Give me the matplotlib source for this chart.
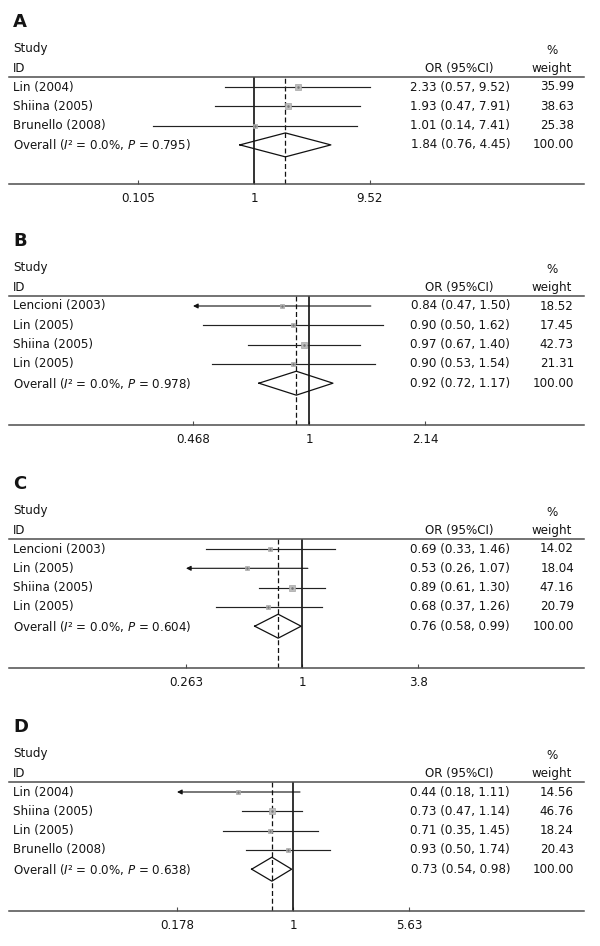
import numpy as np
import matplotlib
matplotlib.use("Agg")
import matplotlib.pyplot as plt
import matplotlib.transforms as mtransforms

plt.rcParams['font.family'] = ['DejaVu Sans']
plt.rcParams['mathtext.fontset'] = 'dejavusans'

# ---------------- data ----------------
A_studies = ["Lin (2004)", "Shiina (2005)", "Brunello (2008)"]
A_or = [2.33, 1.93, 1.01]
A_lo = [0.57, 0.47, 0.14]
A_hi = [9.52, 7.91, 7.41]
A_w = [35.99, 38.63, 25.38]
A_arrow = [False, False, False]
A_overall = [1.84, 0.76, 4.45]
A_p = "0.795"
A_ticks = ["0.105", "1", "9.52"]

B_studies = ["Lencioni (2003)", "Lin (2005)", "Shiina (2005)", "Lin (2005)"]
B_or = [0.84, 0.90, 0.97, 0.90]
B_lo = [0.47, 0.50, 0.67, 0.53]
B_hi = [1.50, 1.62, 1.40, 1.54]
B_w = [18.52, 17.45, 42.73, 21.31]
B_arrow = [True, False, False, False]
B_overall = [0.92, 0.72, 1.17]
B_p = "0.978"
B_ticks = ["0.468", "1", "2.14"]

C_studies = ["Lencioni (2003)", "Lin (2005)", "Shiina (2005)", "Lin (2005)"]
C_or = [0.69, 0.53, 0.89, 0.68]
C_lo = [0.33, 0.26, 0.61, 0.37]
C_hi = [1.46, 1.07, 1.30, 1.26]
C_w = [14.02, 18.04, 47.16, 20.79]
C_arrow = [False, True, False, False]
C_overall = [0.76, 0.58, 0.99]
C_p = "0.604"
C_ticks = ["0.263", "1", "3.8"]

D_studies = ["Lin (2004)", "Shiina (2005)", "Lin (2005)", "Brunello (2008)"]
D_or = [0.44, 0.73, 0.71, 0.93]
D_lo = [0.18, 0.47, 0.35, 0.50]
D_hi = [1.11, 1.14, 1.45, 1.74]
D_w = [14.56, 46.76, 18.24, 20.43]
D_arrow = [True, False, False, False]
D_overall = [0.73, 0.54, 0.98]
D_p = "0.638"
D_ticks = ["0.178", "1", "5.63"]

overall_weight = "100.00"
overall_i2 = "0.0%"

panels = [
    ("A", A_studies, A_or, A_lo, A_hi, A_w, A_arrow, A_overall, A_p, A_ticks),
    ("B", B_studies, B_or, B_lo, B_hi, B_w, B_arrow, B_overall, B_p, B_ticks),
    ("C", C_studies, C_or, C_lo, C_hi, C_w, C_arrow, C_overall, C_p, C_ticks),
    ("D", D_studies, D_or, D_lo, D_hi, D_w, D_arrow, D_overall, D_p, D_ticks),
]

# ---------------- layout (pixels) ----------------
W, H = 600, 946
X0, X1 = 9, 584          # extent of panel lines
panel_top = [77, 296, 539, 782]
panel_bot = [184, 425, 668, 911]
one_px = [254, 309, 302, 293]
half_span = 116          # px from 1 to outer tick
row_h = 19.3
first_off = 10

fig = plt.figure(figsize=(W / 100, H / 100), dpi=100)
FS = 8.6
TXT = '#141414'
LINEC = '#4d4d4d'

def fx(px):
    return (px - X0) / (X1 - X0)

for k, (lab, studies, orv, lo, hi, w, arrow, ov, pval, ticks) in enumerate(panels):
    top, bot = panel_top[k], panel_bot[k]
    ax = fig.add_axes([X0 / W, 1 - bot / H, (X1 - X0) / W, (bot - top) / H])
    ax.set_xscale('log')
    tick_hi = float(ticks[2])
    ppd = half_span / np.log10(tick_hi)
    xmin = 10 ** (-(one_px[k] - X0) / ppd)
    xmax = 10 ** ((X1 - one_px[k]) / ppd)
    ax.set_xlim(xmin, xmax)
    ytop = 1 - first_off / row_h
    ybot = 1 + (bot - top - first_off) / row_h
    ax.set_ylim(ybot, ytop)

    for s in ['left', 'right']:
        ax.spines[s].set_visible(False)
    for s in ['top', 'bottom']:
        ax.spines[s].set_color(LINEC)
        ax.spines[s].set_linewidth(1.1)
    ax.set_yticks([])
    tvals = [1 / tick_hi, 1.0, tick_hi]
    ax.set_xticks(tvals)
    ax.set_xticklabels(ticks)
    ax.minorticks_off()
    ax.tick_params(axis='x', direction='in', length=3, width=0.8, color=LINEC,
                   labelsize=FS, labelcolor=TXT, pad=5.5)
    ax.patch.set_alpha(0)

    n = len(studies)
    rows = np.arange(1, n + 1)
    # null line and overall dashed line
    ax.axvline(1.0, color='#111111', lw=1.2, zorder=2)
    ax.axvline(ov[0], color='#111111', lw=0.9, ls=(0, (4, 2.2)), zorder=2)

    for i in range(n):
        y = rows[i]
        if arrow[i]:
            ax.annotate('', xy=(tvals[0], y), xytext=(hi[i], y),
                        arrowprops=dict(arrowstyle='-|>', color='#111111', lw=0.8,
                                        mutation_scale=7, shrinkA=0, shrinkB=0),
                        zorder=3)
        else:
            ax.plot([lo[i], hi[i]], [y, y], color='#222222', lw=0.85, zorder=3)
        side = 0.95 * np.sqrt(w[i]) * 0.72
        ax.plot([orv[i]], [y], marker='s', ms=side, mfc='#bdbdbd', mec='#a5a5a5',
                mew=0.5, zorder=4, ls='none')
        ax.plot([orv[i]], [y], marker='.', ms=1.6, color='#777777', zorder=5, ls='none')

    # overall diamond
    yo = n + 1
    dh = 0.62
    ax.plot([ov[1], ov[0], ov[2], ov[0], ov[1]], [yo, yo - dh, yo, yo + dh, yo],
            color='#111111', lw=0.9, zorder=4)

    tr = mtransforms.blended_transform_factory(ax.transAxes, ax.transData)
    # headers
    ax.text(fx(13), -2.37, lab, transform=tr, fontsize=13, fontweight='bold',
            ha='left', va='center', color=TXT, clip_on=False)
    ax.text(fx(13), -1.02, "Study", transform=tr, fontsize=FS, ha='left', va='center', color=TXT, clip_on=False)
    ax.text(fx(13), 0.02, "ID", transform=tr, fontsize=FS, ha='left', va='center', color=TXT, clip_on=False)
    ax.text(fx(459), 0.02, "OR (95%CI)", transform=tr, fontsize=FS, ha='center', va='center', color=TXT, clip_on=False)
    ax.text(fx(552), -0.87, "%", transform=tr, fontsize=FS, ha='center', va='center', color=TXT, clip_on=False)
    ax.text(fx(552), 0.02, "weight", transform=tr, fontsize=FS, ha='center', va='center', color=TXT, clip_on=False)

    for i in range(n):
        y = rows[i]
        ax.text(fx(13), y, studies[i], transform=tr, fontsize=FS, ha='left', va='center', color=TXT)
        ax.text(fx(510), y, f"{orv[i]:.2f} ({lo[i]:.2f}, {hi[i]:.2f})", transform=tr,
                fontsize=FS, ha='right', va='center', color=TXT)
        ax.text(fx(574), y, f"{w[i]:.2f}", transform=tr, fontsize=FS, ha='right', va='center', color=TXT)
    ax.text(fx(13), yo, "Overall ($I$² = " + overall_i2 + ", $P$ = " + pval + ")", transform=tr,
            fontsize=FS, ha='left', va='center', color=TXT)
    ax.text(fx(510), yo, f"{ov[0]:.2f} ({ov[1]:.2f}, {ov[2]:.2f})", transform=tr,
            fontsize=FS, ha='right', va='center', color=TXT)
    ax.text(fx(574), yo, overall_weight, transform=tr, fontsize=FS, ha='right', va='center', color=TXT)

fig.savefig("out.png", dpi=100, facecolor='white')
